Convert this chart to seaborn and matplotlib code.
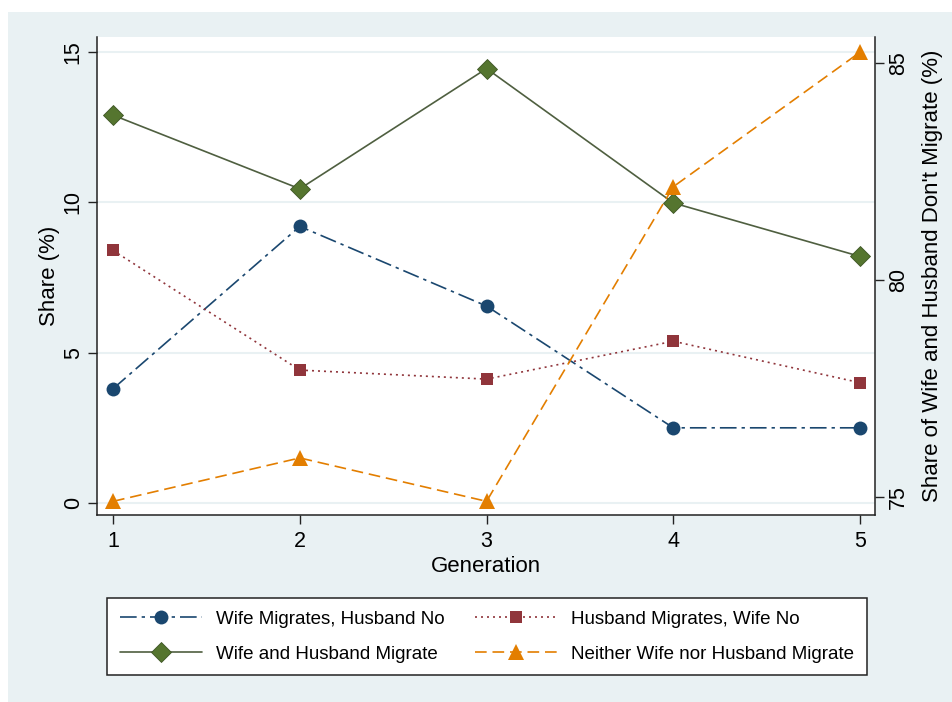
import numpy as np
import pandas as pd
import matplotlib
matplotlib.use("Agg")
import matplotlib.pyplot as plt
from matplotlib.patches import Rectangle
from matplotlib.lines import Line2D
import seaborn as sns

# data
generation = [1, 2, 3, 4, 5]
wife_only = [3.8, 9.2, 6.55, 2.5, 2.5]
husband_only = [8.4, 4.42, 4.12, 5.38, 4.0]
both_migrate = [12.9, 10.45, 14.45, 9.98, 8.2]
neither = [74.9, 75.9, 74.9, 82.15, 85.25]  # right axis

labels = ["Wife Migrates, Husband No", "Husband Migrates, Wife No",
          "Wife and Husband Migrate", "Neither Wife nor Husband Migrate"]

navy = "#1A476F"
maroon = "#90353B"
green = "#55752F"
orange = "#E37E00"
region_bg = "#E9F1F3"

sns.set_style("white")
plt.rcParams["font.family"] = ["Liberation Sans", "DejaVu Sans"]
plt.rcParams["text.color"] = "black"
plt.rcParams["axes.labelcolor"] = "black"

df = pd.DataFrame({"Generation": generation, "wife": wife_only,
                   "husband": husband_only, "both": both_migrate,
                   "neither": neither})

fig = plt.figure(figsize=(9.52, 7.02), dpi=100)
fig.patch.set_facecolor("white")
fig.add_artist(Rectangle((8 / 952, 0), 1 - 8 / 952, 1 - 12 / 702,
                         transform=fig.transFigure, facecolor=region_bg,
                         edgecolor="none", zorder=-10))

ax = fig.add_axes([97 / 952, 1 - 515 / 702, (875 - 97) / 952, (515 - 37) / 702])
ax.set_facecolor("white")
ax2 = ax.twinx()

lw = 1.2
navy_ls = (0, (10, 3, 2, 3))
maroon_ls = (0, (1.2, 2.4))
orange_ls = (0, (7, 3.5))

sns.lineplot(data=df, x="Generation", y="wife", ax=ax, color=navy, lw=lw,
             linestyle=navy_ls, marker="o", markersize=10,
             markeredgewidth=0, legend=False)
sns.lineplot(data=df, x="Generation", y="husband", ax=ax, color=maroon, lw=lw,
             linestyle=maroon_ls, marker="s", markersize=9,
             markeredgewidth=0, legend=False)
sns.lineplot(data=df, x="Generation", y="both", ax=ax, color="#4F5F40", lw=lw,
             linestyle="-", marker="D", markersize=10, markerfacecolor=green,
             markeredgecolor="#3E5524", markeredgewidth=0.6, legend=False)
sns.lineplot(data=df, x="Generation", y="neither", ax=ax2, color=orange, lw=lw,
             linestyle=orange_ls, marker="^", markersize=11,
             markeredgewidth=0, legend=False)

ax.set_xlim(0.914, 5.08)
ax.set_ylim(-0.4, 15.5)
ax2.set_ylim(74.585, 85.6)
ax.set_xticks([1, 2, 3, 4, 5])
ax.set_yticks([0, 5, 10, 15])
ax2.set_yticks([75, 80, 85])

ax.grid(False)
ax2.grid(False)
for v in [0, 5, 10, 15]:
    ax.axhline(v, color=region_bg, lw=1.5, zorder=0)

for a in (ax, ax2):
    a.spines["top"].set_visible(False)
    for s in ("left", "right", "bottom"):
        a.spines[s].set_color("#222222")
        a.spines[s].set_linewidth(1.1)
ax.spines["right"].set_visible(False)
ax2.spines["left"].set_visible(False)
ax2.spines["bottom"].set_visible(False)

tick_kw = dict(direction="out", length=6.5, width=1.0, color="#222222",
               labelcolor="black", labelsize=15.5, pad=3)
ax.tick_params(axis="both", **tick_kw)
ax.tick_params(axis="y", left=True)
ax.tick_params(axis="x", bottom=True, pad=5)
ax2.tick_params(axis="y", right=True, **tick_kw)
for t in ax.get_yticklabels() + ax2.get_yticklabels():
    t.set_rotation(90)
    t.set_va("center")

ax.set_xlabel("Generation", fontsize=16, labelpad=3)
ax.set_ylabel("Share (%)", fontsize=16, labelpad=2)
ax2.set_ylabel("Share of Wife and Husband Don't Migrate (%)", fontsize=16,
               labelpad=9)

# legend below the plot, 2 columns (row-wise order as in the original)
handles = [
    Line2D([], [], color=navy, lw=lw, linestyle=navy_ls, marker="o",
           markersize=10, markeredgewidth=0),
    Line2D([], [], color=maroon, lw=lw, linestyle=maroon_ls, marker="s",
           markersize=9, markeredgewidth=0),
    Line2D([], [], color="#4F5F40", lw=lw, marker="D", markersize=10,
           markerfacecolor=green, markeredgecolor="#3E5524", markeredgewidth=0.6),
    Line2D([], [], color=orange, lw=lw, linestyle=orange_ls, marker="^",
           markersize=11, markeredgewidth=0),
]
order = [0, 2, 1, 3]
leg = fig.legend([handles[i] for i in order], [labels[i] for i in order],
                 ncol=2, loc="center",
                 bbox_to_anchor=(487 / 952, 1 - 636.5 / 702),
                 fontsize=13.5, handlelength=4.4, handletextpad=0.75,
                 columnspacing=1.6, labelspacing=0.95, borderpad=0.65,
                 frameon=True, fancybox=False, framealpha=1)
leg.get_frame().set_edgecolor("#222222")
leg.get_frame().set_linewidth(1.1)
leg.get_frame().set_facecolor("white")

fig.savefig("out.png", dpi=100)
